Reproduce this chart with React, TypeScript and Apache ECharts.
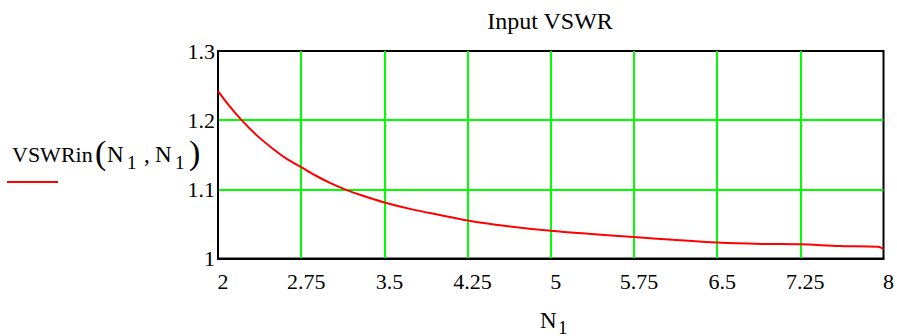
import React, { useEffect, useRef } from "react";
import * as echarts from "echarts";

// Data
const N_VALUES = [2, 2.1, 2.213, 2.35, 2.5, 2.62, 2.75, 2.88, 3.0, 3.144, 3.3, 3.5, 3.75, 4.0, 4.25, 4.6, 5.0, 5.4, 5.75, 6.1, 6.5, 6.9, 7.25, 7.6, 7.95, 8];
const VSWR_VALUES = [1.242, 1.221, 1.2, 1.178, 1.158, 1.144, 1.132, 1.12, 1.11, 1.1, 1.091, 1.081, 1.071, 1.063, 1.055, 1.047, 1.04, 1.035, 1.031, 1.027, 1.023, 1.021, 1.0205, 1.018, 1.017, 1.014];
const X_TICK_LABELS = ["2", "2.75", "3.5", "4.25", "5", "5.75", "6.5", "7.25", "8"];
const X_START = 2;
const X_STEP = 0.75;
const Y_TICK_LABELS = ["1", "1.1", "1.2", "1.3"];

const FONT = '"Liberation Serif", "Times New Roman", serif';

export default function App() {
  const ref = useRef<HTMLDivElement>(null);
  useEffect(() => {
    document.body.style.margin = "0";
    if (!ref.current) return;
    const chart = echarts.init(ref.current, undefined, { renderer: "svg" });
    const seriesData = N_VALUES.map((n, i) => [n - X_START, VSWR_VALUES[i]]);
    const txt = (text: string, x: number, y: number, size: number, align = "left") => ({
      type: "text",
      x,
      y,
      style: { text, fontSize: size, fontFamily: FONT, fill: "#000", align, verticalAlign: "middle" },
    });
    chart.setOption({
      animation: false,
      backgroundColor: "#fff",
      grid: { left: 218, right: 13, top: 51, bottom: 77.5, show: true, borderColor: "#000", borderWidth: 2, backgroundColor: "transparent" },
      xAxis: {
        type: "value",
        min: 0,
        max: 6,
        interval: X_STEP,
        axisLine: { show: true, lineStyle: { color: "#000", width: 2 } },
        axisTick: { show: false },
        splitLine: { show: true, showMinLine: false, showMaxLine: false, lineStyle: { color: "#00ff00", width: 2 } },
        axisLabel: {
          color: "#000",
          fontSize: 22,
          fontFamily: FONT,
          margin: 12,
          padding: [0, 0, 0, 10],
          formatter: (v: number) => X_TICK_LABELS[Math.round(v / X_STEP)] ?? "",
        },
      },
      yAxis: {
        type: "value",
        min: 1,
        max: 1.3,
        interval: 0.1,
        axisLine: { show: true, lineStyle: { color: "#000", width: 2 } },
        axisTick: { show: false },
        splitLine: { show: true, showMinLine: false, showMaxLine: false, lineStyle: { color: "#00ff00", width: 2 } },
        axisLabel: {
          color: "#000",
          fontSize: 22,
          fontFamily: FONT,
          margin: 3,
          formatter: (v: number) => Y_TICK_LABELS[Math.round((v - 1) * 10)] ?? "",
        },
      },
      series: [
        {
          type: "line",
          data: seriesData,
          showSymbol: false,
          symbol: "none",
          smooth: 0.3,
          lineStyle: { color: "#ff0000", width: 2 },
          z: 5,
        },
      ],
      graphic: [
        txt("Input VSWR", 550, 21, 24, "center"),
        txt("VSWRin", 12, 154, 22),
        txt("(", 95, 152, 34),
        txt("N", 107, 154, 23),
        txt("1", 127, 162, 19),
        txt(",", 144, 154, 23),
        txt("N", 155, 154, 23),
        txt("1", 175, 162, 19),
        txt(")", 189, 152, 34),
        {
          type: "line",
          shape: { x1: 7, y1: 182, x2: 58, y2: 182 },
          style: { stroke: "#ff0000", lineWidth: 2 },
        },
        txt("N", 540, 320.5, 23),
        txt("1", 558, 327, 19),
      ],
    });
    return () => chart.dispose();
  }, []);
  return <div ref={ref} style={{ width: 897, height: 336 }} />;
}
